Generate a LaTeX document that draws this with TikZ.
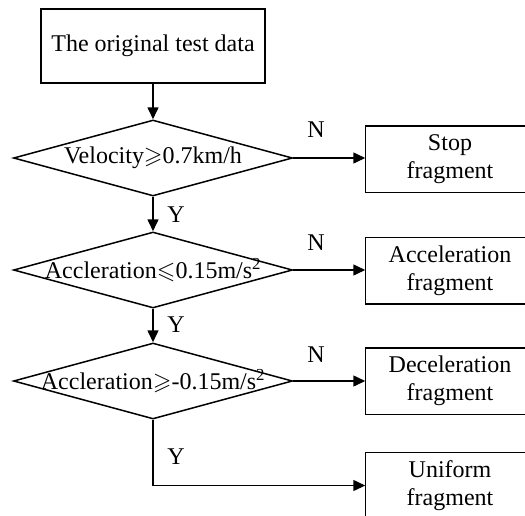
\documentclass[tikz,border=0pt]{standalone}
\usepackage{fontspec}
\usepackage{amssymb}
\setmainfont{Liberation Serif}
\usetikzlibrary{shapes.geometric,arrows.meta}

\begin{document}
\begin{tikzpicture}[x=1pt,y=-1pt, line width=1.5pt,
  every node/.style={font=\fontsize{24}{28}\selectfont},
  procbox/.style={draw, rectangle, inner sep=0pt, align=center},
  fragbox/.style={rectangle, inner sep=0pt, align=center, minimum width=168pt, minimum height=65pt},
  decision/.style={draw, diamond, inner sep=0pt, minimum width=279pt, minimum height=76pt},
  flow/.style={-{Triangle[length=12pt,width=11pt]}},
  tag/.style={inner sep=0pt}]

  \useasboundingbox (0,0) rectangle (525,515);

  % start box
  \node[procbox, minimum width=224pt, minimum height=74pt] (src) at (153,46) {The original test data};

  % decisions
  \node[decision] (d1) at (153,158) {};
  \node (t1) at (d1) {Velocity$\geqslant$0.7km/h};
  \node[decision] (d2) at (153,270) {};
  \node (t2) at (d2) {Accleration$\leqslant$0.15m/s\textsuperscript{2}};
  \node[decision] (d3) at (153,381) {};
  \node (t3) at (d3) {Accleration$\geqslant$-0.15m/s\textsuperscript{2}};

  % resulting fragments (frames run past the right edge of the page)
  \node[fragbox] (stop)  at (450,159)   {Stop\\fragment};
  \node[fragbox] (accel) at (450,270.5) {Acceleration\\fragment};
  \node[fragbox] (decel) at (450,381)   {Deceleration\\fragment};
  \node[fragbox] (uni)   at (450,485.5) {Uniform\\fragment};
  \draw (stop.north west)  rectangle ([xshift=30pt]stop.south east);
  \draw (accel.north west) rectangle ([xshift=30pt]accel.south east);
  \draw (decel.north west) rectangle ([xshift=30pt]decel.south east);
  \draw (uni.north west)   rectangle ([xshift=30pt,yshift=-12pt]uni.south east);

  % main flow
  \draw[flow] (src) -- (d1.north);
  \draw[flow] (d1.south) -- (d2.north);
  \draw[flow] (d2.south) -- (d3.north);
  \draw[flow] (d3.south) |- (uni.west);

  % N branches
  \draw[flow] (d1.east) -- (d1.east -| stop.west);
  \draw[flow] (d2.east) -- (d2.east -| accel.west);
  \draw[flow] (d3.east) -- (d3.east -| decel.west);

  % branch labels
  \node[tag] (y1) at (176,215) {Y};
  \node[tag] (y2) at (176,325) {Y};
  \node[tag] (y3) at (176,457) {Y};
  \node[tag] (n1) at (316,130) {N};
  \node[tag] (n2) at (316,243) {N};
  \node[tag] (n3) at (316,355) {N};
\end{tikzpicture}
\end{document}
